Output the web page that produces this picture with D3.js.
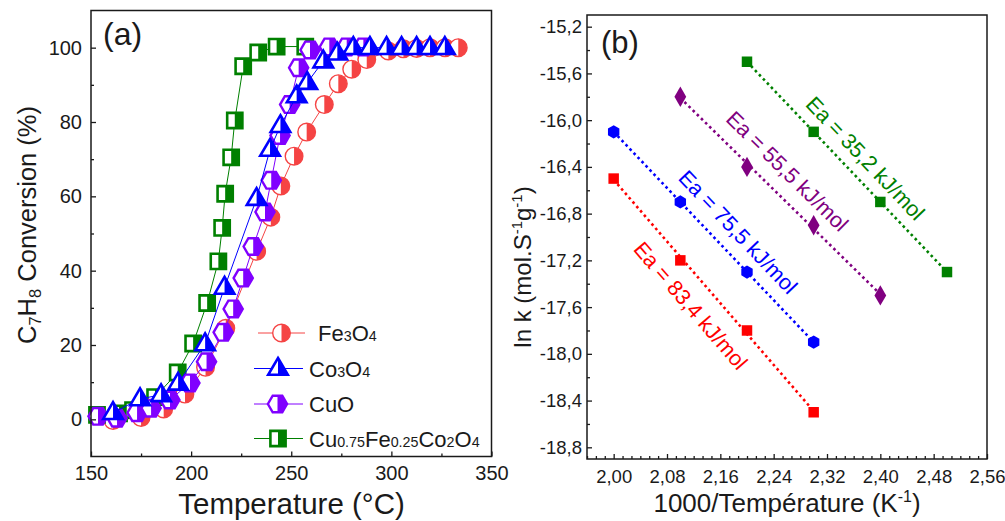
<!DOCTYPE html>
<html><head><meta charset="utf-8">
<script src="https://cdn.jsdelivr.net/npm/d3@7"></script>
<style>
body{margin:0;background:#fff}
svg{display:block}
text{font-family:"Liberation Sans",Arial,Helvetica,sans-serif}
</style>
</head><body>
<svg id="c" width="1005" height="521"></svg>
<script>
// ---------- Panel (a) data ----------
const fe3o4T = [161,175,186.3,196.9,207.2,217.3,232.7,239.8,244.8,251.4,257.7,266.5,273.5,280.2,287.7,298.5,306,312.6,319.3,326.8,333.4];
const fe3o4V = [-0.3,0.5,2.8,6.8,14,24.5,45.2,54.4,62.8,70.8,77.3,84.7,90.3,94.2,96.8,99.1,99.7,99.8,100,100,100];
const co3o4T = [161,174.5,185,193.5,207,216.7,232.7,239.4,244.6,252.7,258,266,273,281,289.3,297.6,305.1,312.6,319.3,326.7];
const co3o4V = [1.8,5.5,6.6,9.7,20.3,35.5,59.4,72.6,79,87,90.6,96.4,98.5,100,100,100,100,100,100,100];
const cuoT = [153.5,163,173,180,189.4,199.4,207.7,216,221,226,231,236.9,240,244.4,249.2,253.7,259.4,269,277.7,286];
const cuoV = [0.8,0.3,1.8,3,5.2,9.8,15.5,23.4,29.7,38,46.5,55.8,64.3,76.4,84.7,94.6,99.4,100.2,100.2,100.2];
const cufeT = [153,164,171,182,193.3,201,208,213.6,215.5,217,220,221.8,226,233.5,242.7,257];
const cufeV = [1.2,1.6,2.5,6,12.6,20.4,31.3,42.5,51.5,60.7,70.5,80.4,95,98.7,100.3,100.3];
const xTicksA = [150,200,250,300,350];
const xMinorA = [175,225,275,325];
const yTicksA = [0,20,40,60,80,100];
const yMinorA = [10,30,50,70,90];

// ---------- Panel (b) data ----------
const invT_red = [2.0,2.1,2.2,2.3];
const lnk_red = [-16.5,-17.2,-17.8,-18.5];
const invT_blue = [2.0,2.1,2.2,2.3];
const lnk_blue = [-16.1,-16.7,-17.3,-17.9];
const invT_purple = [2.1,2.2,2.3,2.4];
const lnk_purple = [-15.8,-16.4,-16.9,-17.5];
const invT_green = [2.2,2.3,2.4,2.5];
const lnk_green = [-15.5,-16.1,-16.7,-17.3];
const eaLabels = ["Ea = 83,4 kJ/mol","Ea = 75,5 kJ/mol","Ea = 55,5 kJ/mol","Ea = 35,2 kJ/mol"];
const xTicksB = [2.00,2.08,2.16,2.24,2.32,2.40,2.48,2.56];
const yTicksB = [-15.2,-15.6,-16.0,-16.4,-16.8,-17.2,-17.6,-18.0,-18.4,-18.8];

const svg = d3.select('#c');
const FONT = '"Liberation Sans",Arial,Helvetica,sans-serif';
const INK = '#1a1a1a';

// ---------- helpers ----------
const defs = svg.append('defs');
defs.append('clipPath').attr('id','rhalf').attr('clipPathUnits','userSpaceOnUse')
  .append('rect').attr('x',0).attr('y',-40).attr('width',40).attr('height',80);

const shapes = {
  circle: 'M8.8,0A8.8,8.8,0,1,1,-8.8,0A8.8,8.8,0,1,1,8.8,0Z',
  triangle: 'M0,-10.5L9.8,6.3L-9.8,6.3Z',
  hexagon: 'M9.6,0L4.8,8.3L-4.8,8.3L-9.6,0L-4.8,-8.3L4.8,-8.3Z',
  square: 'M-7.6,-7.6H7.6V7.6H-7.6Z'
};
function halfMarker(g, d, color, sw){
  g.append('path').attr('d',d).attr('fill','#fff');
  g.append('path').attr('d',d).attr('fill',color).attr('clip-path','url(#rhalf)');
  g.append('path').attr('d',d).attr('fill','none').attr('stroke',color).attr('stroke-width',sw).attr('stroke-linejoin','miter');
}
function styleAxis(g, fs){
  g.select('.domain').remove();
  g.attr('font-family',FONT).attr('font-size',fs);
  g.selectAll('line').attr('stroke',INK).attr('stroke-width',1.3);
  g.selectAll('text').attr('fill',INK);
}

// ================= Panel (a) =================
const xA = d3.scaleLinear().domain([150,350]).range([91,491.5]);
const yA = d3.scaleLinear().domain([-10,110]).range([456.5,10.5]);
const gA = svg.append('g');

const seriesA = [
  {T:fe3o4T, V:fe3o4V, color:'#f54444', shape:'circle', sw:1.4, name:[['Fe',0],['3',1],['O',0],['4',1]]},
  {T:cufeT, V:cufeV, color:'#008000', shape:'square', sw:2.6, name:[['Cu',0],['0.75',1],['Fe',0],['0.25',1],['Co',0],['2',1],['O',0],['4',1]]},
  {T:cuoT, V:cuoV, color:'#8000ff', shape:'hexagon', sw:2.4, name:[['CuO',0]]},
  {T:co3o4T, V:co3o4V, color:'#0000ff', shape:'triangle', sw:2.6, name:[['Co',0],['3',1],['O',0],['4',1]]}
];
const line = d3.line();
seriesA.forEach(s=>{
  const pts = s.T.map((t,i)=>[xA(t), yA(s.V[i])]);
  gA.append('path').attr('d',line(pts)).attr('fill','none').attr('stroke',s.color).attr('stroke-width',1);
  pts.forEach(p=>{
    const m = gA.append('g').attr('transform',`translate(${p[0]},${p[1]})`);
    halfMarker(m, shapes[s.shape], s.color, s.sw);
  });
});

// axes (a)
gA.append('g').attr('transform',`translate(0,${yA.range()[0]})`)
  .call(d3.axisBottom(xA).tickValues(xTicksA).tickFormat(d3.format('d')).tickSizeInner(-5).tickSizeOuter(0).tickPadding(9.5))
  .call(g=>styleAxis(g,20));
gA.append('g').attr('transform',`translate(0,${yA.range()[0]})`)
  .call(d3.axisBottom(xA).tickValues(xMinorA).tickFormat(()=> '').tickSizeInner(-3).tickSizeOuter(0))
  .call(g=>styleAxis(g,20));
gA.append('g').attr('transform',`translate(${xA.range()[0]},0)`)
  .call(d3.axisLeft(yA).tickValues(yTicksA).tickFormat(d3.format('d')).tickSizeInner(-5).tickSizeOuter(0).tickPadding(9))
  .call(g=>styleAxis(g,20));
gA.append('g').attr('transform',`translate(${xA.range()[0]},0)`)
  .call(d3.axisLeft(yA).tickValues(yMinorA).tickFormat(()=> '').tickSizeInner(-3).tickSizeOuter(0))
  .call(g=>styleAxis(g,20));
gA.append('rect').attr('x',xA.range()[0]).attr('y',yA.range()[1])
  .attr('width',xA.range()[1]-xA.range()[0]).attr('height',yA.range()[0]-yA.range()[1])
  .attr('fill','none').attr('stroke',INK).attr('stroke-width',1.5);

// legend (a)
const legRows = [
  {s:seriesA[0], y:333, lx1:258, lx2:305, mx:281.5, tx:318},
  {s:seriesA[3], y:368.5, lx1:254, lx2:303, mx:278, tx:309},
  {s:seriesA[2], y:404, lx1:254, lx2:303, mx:277.5, tx:309},
  {s:seriesA[1], y:438.5, lx1:254, lx2:303, mx:278, tx:309}
];
legRows.forEach(r=>{
  gA.append('line').attr('x1',r.lx1).attr('x2',r.lx2).attr('y1',r.y).attr('y2',r.y).attr('stroke',r.s.color).attr('stroke-width',1);
  const m = gA.append('g').attr('transform',`translate(${r.mx},${r.y})`);
  halfMarker(m, shapes[r.s.shape], r.s.color, r.s.sw);
  const t = gA.append('text').attr('x',r.tx).attr('y',r.y+8).attr('font-size',22).attr('fill',INK);
  r.s.name.forEach(([str,sub])=> t.append('tspan').attr('font-size', sub?14.3:22).text(str));
});

// titles (a)
gA.append('text').attr('x',103).attr('y',45).attr('font-size',32).attr('fill',INK).text('(a)');
gA.append('text').attr('x',291.5).attr('y',514).attr('text-anchor','middle').attr('font-size',29.5).attr('fill',INK).text('Temperature (°C)');
{
  const t = gA.append('text').attr('transform','translate(35.5,225) rotate(-90)').attr('text-anchor','middle').attr('font-size',25.5).attr('fill',INK);
  t.append('tspan').text('C');
  t.append('tspan').attr('dy',5).attr('font-size',16.5).text('7');
  t.append('tspan').attr('dy',-5).text('H');
  t.append('tspan').attr('dy',5).attr('font-size',16.5).text('8');
  t.append('tspan').attr('dy',-5).text(' Conversion (%)');
}

// ================= Panel (b) =================
const xB = d3.scaleLinear().domain([1.96,2.56]).range([587,987]);
const yB = d3.scaleLinear().domain([-18.9,-15.1]).range([459,15]);
const gB = svg.append('g');
const commaFmt = (dec)=> v => v.toFixed(dec).replace('.',',');

const xMinorB = d3.range(0,46).map(i=>1.96 + i*0.08/6).filter(v=> v<2.559 && xTicksB.every(t=>Math.abs(t-v)>1e-6));
const yMinorB = yTicksB.map(v=>v-0.2).filter(v=>v>-18.9);

gB.append('g').attr('transform',`translate(0,${yB.range()[0]})`)
  .call(d3.axisBottom(xB).tickValues(xTicksB).tickFormat(commaFmt(2)).tickSizeInner(-5).tickSizeOuter(0).tickPadding(11))
  .call(g=>styleAxis(g,18.5));
gB.append('g').attr('transform',`translate(0,${yB.range()[0]})`)
  .call(d3.axisBottom(xB).tickValues(xMinorB).tickFormat(()=> '').tickSizeInner(-3).tickSizeOuter(0))
  .call(g=>styleAxis(g,18.5));
gB.append('g').attr('transform',`translate(${xB.range()[0]},0)`)
  .call(d3.axisLeft(yB).tickValues(yTicksB).tickFormat(commaFmt(1)).tickSizeInner(-5).tickSizeOuter(0).tickPadding(5))
  .call(g=>styleAxis(g,18.5));
gB.append('g').attr('transform',`translate(${xB.range()[0]},0)`)
  .call(d3.axisLeft(yB).tickValues(yMinorB).tickFormat(()=> '').tickSizeInner(-3).tickSizeOuter(0))
  .call(g=>styleAxis(g,18.5));
gB.append('rect').attr('x',xB.range()[0]).attr('y',yB.range()[1])
  .attr('width',xB.range()[1]-xB.range()[0]).attr('height',yB.range()[0]-yB.range()[1])
  .attr('fill','none').attr('stroke',INK).attr('stroke-width',1.5);

const seriesB = [
  {x:invT_red, y:lnk_red, color:'#ff0000', sym:d3.symbolSquare, size:110, label:eaLabels[0], lx:2.115, ly:-17.59},
  {x:invT_blue, y:lnk_blue, color:'#0000ff', sym:'hex', size:0, label:eaLabels[1], lx:2.186, ly:-16.96},
  {x:invT_purple, y:lnk_purple, color:'#800080', sym:d3.symbolDiamond, size:120, label:eaLabels[2], lx:2.26, ly:-16.44},
  {x:invT_green, y:lnk_green, color:'#008000', sym:d3.symbolSquare, size:110, label:eaLabels[3], lx:2.377, ly:-16.33}
];
seriesB.forEach(s=>{
  // least-squares fit line
  const mx = d3.mean(s.x), my = d3.mean(s.y);
  const slope = d3.sum(s.x.map((v,i)=>(v-mx)*(s.y[i]-my))) / d3.sum(s.x.map(v=>(v-mx)*(v-mx)));
  const f = v => my + slope*(v-mx);
  const x0 = s.x[0], x1 = s.x[s.x.length-1];
  gB.append('line').attr('x1',xB(x0)).attr('y1',yB(f(x0))).attr('x2',xB(x1)).attr('y2',yB(f(x1)))
    .attr('stroke',s.color).attr('stroke-width',2.6).attr('stroke-dasharray','2.6,3.2');
  s.x.forEach((v,i)=>{
    const g = gB.append('g').attr('transform',`translate(${xB(v)},${yB(s.y[i])})`);
    if (s.sym==='hex'){
      g.append('path').attr('d','M0,-6.6L5.7,-3.3L5.7,3.3L0,6.6L-5.7,3.3L-5.7,-3.3Z').attr('fill',s.color);
    } else {
      g.append('path').attr('d',d3.symbol(s.sym, s.size)()).attr('fill',s.color);
    }
  });
  const ang = Math.atan2(yB(f(x1))-yB(f(x0)), xB(x1)-xB(x0))*180/Math.PI;
  gB.append('text').attr('transform',`translate(${xB(s.lx)},${yB(s.ly)}) rotate(${ang})`)
    .attr('text-anchor','middle').attr('dominant-baseline','central').attr('font-size',21.5)
    .attr('fill',s.color).text(s.label);
});

gB.append('text').attr('x',601).attr('y',53).attr('font-size',31).attr('fill',INK).text('(b)');
{
  const t = gB.append('text').attr('x',787).attr('y',512).attr('text-anchor','middle').attr('font-size',26).attr('fill',INK);
  t.append('tspan').text('1000/Température (K');
  t.append('tspan').attr('dy',-10).attr('font-size',16).text('-1');
  t.append('tspan').attr('dy',10).text(')');
}
{
  const t = gB.append('text').attr('transform','translate(531,267) rotate(-90)').attr('text-anchor','middle').attr('font-size',24).attr('fill',INK);
  t.append('tspan').text('ln k (mol.S');
  t.append('tspan').attr('dy',-9).attr('font-size',15).text('-1');
  t.append('tspan').attr('dy',9).text('g');
  t.append('tspan').attr('dy',-9).attr('font-size',15).text('-1');
  t.append('tspan').attr('dy',9).text(')');
}
</script>
</body></html>
